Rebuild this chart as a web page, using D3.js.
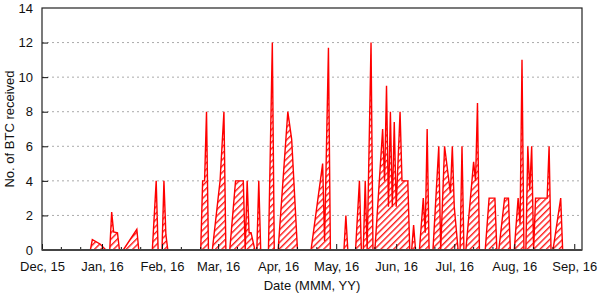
<!DOCTYPE html>
<html>
<head>
<meta charset="utf-8">
<script src="https://cdn.jsdelivr.net/npm/d3@7"></script>
<style>
  body { margin: 0; background: #fff; }
  svg { display: block; font-family: "Liberation Sans", Arial, sans-serif; }
</style>
</head>
<body>
<svg id="chart" width="598" height="294"></svg>
<script>
// ---------- data ----------

const dates = [
  "2015-12-26", "2015-12-27", "2015-12-31", "2016-01-03",
  "2016-01-05", "2016-01-06", "2016-01-07", "2016-01-09", "2016-01-10",
  "2016-01-12", "2016-01-19", "2016-01-20",
  "2016-01-27", "2016-01-29", "2016-01-30",
  "2016-02-01", "2016-02-02", "2016-02-03", "2016-02-04",
  "2016-02-21", "2016-02-22", "2016-02-23", "2016-02-24", "2016-02-25",
  "2016-02-27", "2016-03-02", "2016-03-04", "2016-03-05",
  "2016-03-07", "2016-03-10", "2016-03-14", "2016-03-15", "2016-03-16",
  "2016-03-17", "2016-03-18", "2016-03-20",
  "2016-03-21", "2016-03-22", "2016-03-23",
  "2016-03-27", "2016-03-29", "2016-03-30",
  "2016-04-01", "2016-04-06", "2016-04-08", "2016-04-11",
  "2016-04-18", "2016-04-24", "2016-04-25", "2016-04-27", "2016-04-28",
  "2016-05-05", "2016-05-06", "2016-05-07",
  "2016-05-11", "2016-05-13", "2016-05-14",
  "2016-05-15", "2016-05-16", "2016-05-17", "2016-05-19", "2016-05-20",
  "2016-05-21", "2016-05-25", "2016-05-26", "2016-05-27", "2016-05-28",
  "2016-05-29", "2016-05-30", "2016-05-31", "2016-06-01", "2016-06-03",
  "2016-06-04", "2016-06-07", "2016-06-08",
  "2016-06-09", "2016-06-10", "2016-06-11",
  "2016-06-13", "2016-06-15", "2016-06-16", "2016-06-17", "2016-06-18",
  "2016-06-20", "2016-06-23", "2016-06-24",
  "2016-06-26", "2016-06-29", "2016-06-30", "2016-07-01", "2016-07-03",
  "2016-07-04", "2016-07-05", "2016-07-06",
  "2016-07-07", "2016-07-11", "2016-07-12", "2016-07-13", "2016-07-14",
  "2016-07-17", "2016-07-19", "2016-07-22", "2016-07-23",
  "2016-07-24", "2016-07-27", "2016-07-29", "2016-07-30",
  "2016-08-01", "2016-08-03", "2016-08-04", "2016-08-05", "2016-08-06",
  "2016-08-07", "2016-08-08", "2016-08-09", "2016-08-10", "2016-08-11",
  "2016-08-12", "2016-08-18", "2016-08-19", "2016-08-20",
  "2016-08-21", "2016-08-25", "2016-08-26",
];

const btcReceived = [
  0, 0.6, 0.35, 0,
  0, 2.2, 1.05, 1.0, 0,
  0, 1.2, 0,
  0, 4, 0,
  0, 4, 0.9, 0,
  0, 4, 4, 8, 0,
  0, 4, 8, 0,
  0, 4, 4, 0, 4,
  1, 1, 0,
  0, 4, 0,
  0, 12, 0,
  0, 8, 6.4, 0,
  0, 5, 0.5, 11.7, 0,
  0, 2, 0,
  0, 4, 0,
  0, 4, 0, 12, 0,
  0, 7, 4, 9.5, 2.5,
  8, 2.5, 7.4, 2.5, 8,
  4, 4, 0,
  0, 1.45, 0,
  0, 3, 1, 7, 0,
  0, 6, 0,
  6, 3.3, 6, 2.5, 0,
  0, 6, 0,
  0, 5.1, 4, 8.5, 0,
  0, 3, 3, 0,
  0, 3, 3, 0,
  0, 3, 1.5, 11, 0,
  0, 6, 3.5, 6, 0,
  3, 3, 6, 0,
  0, 3, 0,
];

const yTicks = [0, 2, 4, 6, 8, 10, 12, 14];
const gridLines = [2, 4, 6, 8, 10, 12];
const monthTicks = [
  "2015-12-01", "2016-01-01", "2016-02-01", "2016-03-01", "2016-04-01",
  "2016-05-01", "2016-06-01", "2016-07-01", "2016-08-01", "2016-09-01",
];
const xDomain = ["2015-12-01", "2016-09-05"];

// ---------- setup ----------

const parse = d3.timeParse("%Y-%m-%d");
const points = dates.map((d, i) => ({ date: parse(d), value: btcReceived[i] }));

const margin = { top: 8, right: 16, bottom: 44, left: 42 };
const width = 598 - margin.left - margin.right;
const height = 294 - margin.top - margin.bottom;

const svg = d3.select("#chart");
const g = svg.append("g").attr("transform", `translate(${margin.left},${margin.top})`);

const x = d3.scaleTime().domain(xDomain.map(parse)).range([0, width]);
const y = d3.scaleLinear().domain([0, 14]).range([height, 0]);

// hatch pattern: "/" stripes
const defs = svg.append("defs");
const pat = defs.append("pattern")
  .attr("id", "hatch")
  .attr("patternUnits", "userSpaceOnUse")
  .attr("width", 4.5)
  .attr("height", 4.5)
  .attr("patternTransform", "rotate(45)");
pat.append("rect").attr("width", 4.5).attr("height", 4.5).attr("fill", "#fff");
pat.append("rect").attr("width", 1.4).attr("height", 4.5).attr("fill", "#ff1a1a");

// dotted grid
g.selectAll(".grid")
  .data(gridLines)
  .join("line")
  .attr("x1", 0)
  .attr("x2", width)
  .attr("y1", (d) => y(d))
  .attr("y2", (d) => y(d))
  .attr("stroke", "#aaa")
  .attr("stroke-width", 1)
  .attr("stroke-dasharray", "2,3");

// ---------- area ----------

const area = d3.area()
  .x((d) => x(d.date))
  .y0(y(0))
  .y1((d) => y(d.value));

const line = d3.line()
  .x((d) => x(d.date))
  .y((d) => y(d.value));

g.append("path")
  .datum(points)
  .attr("d", area)
  .attr("fill", "url(#hatch)");

g.append("path")
  .datum(points)
  .attr("d", line)
  .attr("fill", "none")
  .attr("stroke", "#ff0000")
  .attr("stroke-width", 1.4)
  .attr("stroke-linejoin", "miter");

// ---------- axes ----------

// minor x ticks (11th and 21st of each month)
const minorTicks = [];
monthTicks.slice(0, -1).forEach((m) => {
  const d = parse(m);
  minorTicks.push(new Date(d.getFullYear(), d.getMonth(), 11));
  minorTicks.push(new Date(d.getFullYear(), d.getMonth(), 21));
});

const xAxis = d3.axisBottom(x)
  .tickValues(monthTicks.map(parse))
  .tickFormat(d3.timeFormat("%b, %y"))
  .tickSizeInner(-6)
  .tickSizeOuter(0)
  .tickPadding(12);

const gx = g.append("g").attr("transform", `translate(0,${height})`).call(xAxis);
gx.select(".domain").remove();
gx.selectAll(".tick line").attr("stroke", "#111");
gx.selectAll("text").attr("font-size", 13).attr("fill", "#111");

g.selectAll(".minor")
  .data(minorTicks)
  .join("line")
  .attr("x1", (d) => x(d))
  .attr("x2", (d) => x(d))
  .attr("y1", height)
  .attr("y2", height - 3)
  .attr("stroke", "#111");

const yAxis = d3.axisLeft(y)
  .tickValues(yTicks)
  .tickSizeInner(-6)
  .tickSizeOuter(0)
  .tickPadding(9);

const gy = g.append("g").call(yAxis);
gy.select(".domain").remove();
gy.selectAll(".tick line").attr("stroke", "#111")
  .filter((d) => d === 0 || d === 14).remove();
gy.selectAll("text").attr("font-size", 13).attr("fill", "#111");

// frame
g.append("rect")
  .attr("width", width)
  .attr("height", height)
  .attr("fill", "none")
  .attr("stroke", "#222")
  .attr("stroke-width", 1.2);

g.append("line")
  .attr("x1", 0).attr("x2", width)
  .attr("y1", height).attr("y2", height)
  .attr("stroke", "#444")
  .attr("stroke-width", 1.8);

// titles
svg.append("text")
  .attr("x", margin.left + width / 2)
  .attr("y", 290)
  .attr("text-anchor", "middle")
  .attr("font-size", 13)
  .attr("fill", "#111")
  .text("Date (MMM, YY)");

svg.append("text")
  .attr("transform", `translate(14,${margin.top + height / 2}) rotate(-90)`)
  .attr("text-anchor", "middle")
  .attr("font-size", 13)
  .attr("fill", "#111")
  .text("No. of BTC received");
</script>
</body>
</html>
